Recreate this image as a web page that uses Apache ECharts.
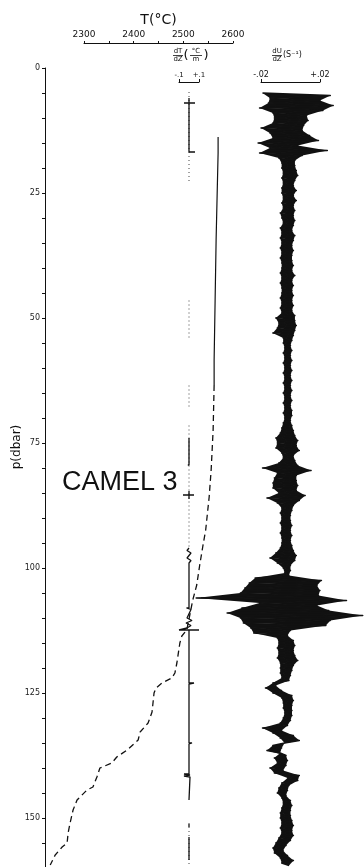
<!DOCTYPE html>
<html>
<head>
<meta charset="utf-8">
<title>CAMEL 3</title>
<script src="https://cdn.jsdelivr.net/npm/echarts@6/dist/echarts.min.js"></script>
<style>
html, body { margin: 0; padding: 0; background: #fff; }
#profile-chart-box { width: 364px; height: 867px; }
</style>
</head>
<body>
<div id="profile-chart-box"></div>
<script>
// pressure axis (dbar)
var pTickValues = [0, 5, 10, 15, 20, 25, 30, 35, 40, 45, 50, 55, 60, 65, 70, 75, 80,
    85, 90, 95, 100, 105, 110, 115, 120, 125, 130, 135, 140, 145, 150, 155, 160];
var pLabelValues = [0, 25, 50, 75, 100, 125, 150];

// temperature axis
var tTickValues = [23, 23.5, 24, 24.5, 25, 25.5, 26];
var tLabelValues = [23, 24, 25, 26];
var tTickLabels = ['2300', '2400', '2500', '2600'];

// gradient / shear axes
var dtLabelValues = [-0.1, 0.1];
var dtTickLabels = ['-.1', '+.1'];
var duLabelValues = [-0.02, 0.02];
var duTickLabels = ['-.02', '+.02'];

// temperature profile, upper solid part
var tSolidDepth = [13.8, 17, 34.4, 46.4, 58.4, 63.4];
var tSolidTemp = [25.70, 25.70, 25.66, 25.64, 25.62, 25.62];

// temperature profile, lower dashed part
var tDashDepth = [63.4, 72.4, 80.4, 85.8, 92.4, 95.8, 99.4, 103.4, 106.4, 109.4,
    112.4, 113.6, 115, 119, 121, 122, 123, 124, 125, 128.8,
    131, 132.8, 134.4, 136.4, 137.8, 139, 140, 141.8, 143.8, 144.4,
    146.4, 148.4, 151, 153, 155, 155.8, 157.4, 159.4];
var tDashTemp = [25.62, 25.60, 25.56, 25.52, 25.45, 25.39, 25.33, 25.27, 25.19, 25.13,
    25.07, 24.97, 24.93, 24.87, 24.83, 24.77, 24.57, 24.45, 24.41, 24.37,
    24.29, 24.13, 24.09, 23.87, 23.66, 23.56, 23.32, 23.26, 23.18, 23.06,
    22.86, 22.78, 22.72, 22.68, 22.66, 22.56, 22.42, 22.32];

// dT/dZ faint dotted trace (null = gap)
var dtFaintDepth = [4.8, 23, null, 46.5, 54.5, null, 63.5, 68, null, 71.5, 96, null, 151, 159.8];
var dtFaintValue = [0, 0, null, 0, 0, null, 0, 0, null, 0, 0, null, 0, 0];

// dT/dZ inked trace with its spikes (null = gap)
var dtSolidDepth = [6, 7, 7, 7, 7, 14.8, 14.8, 14.8, 14.8, 16.8, 16.8, null,
    74, 79.4, 79.4, 79.4, 79.4, null,
    85.4, 85.4, null, 84.6, 86.2, null,
    96, 96.5, 97, 98, 98.5, 99, 101, 101, 101.3, 101.6,
    104.4, 104.4, 104.7, 105, 108, 108, 108.3, 108.6,
    110, 110.5, 111, 111.5, 112, 112.4, 112.4, 112.4, 112.4, 113,
    123, 123, 123.2, 132, 132, 132.3, 132.6, 135, 135, 135.2,
    141.2, 141.2, 141.4, 141.6, 141.8, 142, 146.4, null,
    151.2, 151.8, null, 153.8, 158.4];
var dtSolidValue = [0, 0, -0.05, 0.06, 0, 0, -0.015, 0.015, 0, 0, 0.06, null,
    0, 0, -0.012, 0.012, 0, null,
    -0.06, 0.05, null, 0, 0, null,
    0, -0.02, 0.02, -0.02, 0.02, 0, 0, -0.02, 0.02, 0,
    0, -0.02, 0.02, 0, 0, -0.025, 0.02, 0,
    -0.02, 0.03, -0.03, 0.02, -0.02, 0, -0.1, 0.1, 0, 0,
    0, 0.05, 0, 0, -0.02, 0.02, 0, 0, 0.03, 0,
    0, -0.05, 0.01, -0.05, 0.01, 0, 0, null,
    0, 0, null, 0, 0];

// dU/dZ in 1e-3 s^-1, read every 0.5 dbar from 5 dbar, swinging left / right
var duStartP = 5;
var duStepP = 0.5;
var duDzMilli = [
    -19, 27, -14, 20, -15, 29, -21, 22, -12, 11,
    -11, 12, -12, 9, -20, 8, -14, 13, -12, 19,
    -22, 5, -14, 25, -21, 8, -8, 3, -6, 3,
    -6, 4, -5, 5, -6, 3, -5, 2, -6, 4,
    -6, 2, -5, 4, -6, 2, -5, 3, -7, 2,
    -6, 3, -5, 2, -7, 1, -6, 3, -7, 2,
    -6, 1, -7, 2, -6, 1, -7, 1, -6, 2,
    -6, 1, -7, 3, -6, 1, -7, 2, -6, 1,
    -6, 2, -7, 1, -6, 2, -7, 1, -6, 3,
    -10, 3, -8, 4, -9, 3, -12, 2, -5, 1,
    -5, 0, -4, 1, -5, 0, -4, 1, -5, 0,
    -4, 1, -5, 0, -4, 1, -5, 0, -4, 1,
    -5, 0, -4, 1, -5, 0, -4, 1, -5, 1,
    -4, 0, -5, 1, -6, 2, -7, 3, -10, 5,
    -9, 4, -10, 6, -6, 2, -5, 3, -8, 5,
    -19, 14, -9, 4, -11, 4, -12, 5, -12, 4,
    -8, 10, -16, 6, -9, 2, -6, 1, -7, 0,
    -6, 0, -7, 1, -6, 0, -7, 1, -6, 0,
    -6, 1, -7, 2, -10, 4, -14, 3, -9, 0,
    -5, 0, -4, -1, -24, 21, -28, 18, -31, 20,
    -34, 19, -64, 38, -21, 18, -33, 26, -43, 49,
    -34, 27, -32, 24, -27, 0, -25, -2, -9, 2,
    -8, 3, -9, 2, -8, 3, -9, 5, -7, 2,
    -7, 1, -7, 0, -6, -1, -12, -10, -17, -6,
    -12, 1, -6, 2, -5, 1, -5, 1, -4, 1,
    -5, 0, -7, -2, -19, -6, -12, 2, -7, 6,
    -4, -12, -6, -16, -7, -3, -11, -2, -9, -3,
    -14, -5, -11, 6, -2, 5, -6, -1, -8, -2,
    -9, -3, -6, 0, -5, 1, -6, 0, -7, 0,
    -7, 1, -6, 2, -7, 1, -6, 2, -8, 0,
    -10, -3, -12, -5, -11, -2, -7, 2, -6, -1
];

var ink = '#111';
var labelFont = '"DejaVu Sans", sans-serif';

// plot area that carries the traces
var plotLeft = 45;
var plotWidth = 319;
// where each scale bar sits
var tBar = { left: 84, width: 149, lo: 23, hi: 26 };
var dtBar = { left: 179, width: 20, lo: -0.1, hi: 0.1 };
var duBar = { left: 261, width: 59, lo: -0.02, hi: 0.02 };

// range of a hidden axis spanning the plot so that its scale bar lands on bar.left..bar.left+width
function stretch(bar) {
    var perPx = (bar.hi - bar.lo) / bar.width;
    return {
        min: bar.lo - (bar.left - plotLeft) * perPx,
        max: bar.lo + (plotLeft + plotWidth - bar.left) * perPx
    };
}

function pairs(values, depths) {
    var out = [];
    for (var i = 0; i < depths.length; i++) {
        if (depths[i] === null) {
            out.push(['-', '-']);
        } else {
            out.push([values[i], depths[i]]);
        }
    }
    return out;
}

var duData = [];
for (var k = 0; k < duDzMilli.length; k++) {
    duData.push([duDzMilli[k] / 1000, duStartP + k * duStepP]);
}

// fill the swing between three successive samples so the trace inks solid
function renderSwing(params, api) {
    var i = params.dataIndex;
    if (i + 2 >= duData.length) {
        return null;
    }
    return {
        type: 'polygon',
        shape: {
            points: [api.coord(duData[i]), api.coord(duData[i + 1]), api.coord(duData[i + 2])]
        },
        style: { fill: ink, stroke: null }
    };
}

function pickLabel(values, labels) {
    return function(v) {
        for (var i = 0; i < values.length; i++) {
            if (Math.abs(values[i] - v) < 1e-9) return labels[i];
        }
        return '';
    };
}

function depthAxis(idx, visible) {
    return {
        gridIndex: idx,
        type: 'value',
        inverse: true,
        min: 0,
        max: 160,
        interval: 5,
        show: visible,
        axisLine: { show: visible, onZero: false, lineStyle: { color: ink, width: 1 } },
        axisTick: {
            show: visible,
            length: 3,
            customValues: pTickValues,
            lineStyle: { color: ink, width: 1 }
        },
        axisLabel: {
            show: visible,
            customValues: pLabelValues,
            fontSize: 8,
            fontFamily: labelFont,
            color: '#222',
            margin: 5
        },
        splitLine: { show: false }
    };
}

function makeGrid(left, width) {
    return {
        left: left,
        top: 68,
        width: width,
        height: 800,
        containLabel: false,
        outerBoundsMode: 'none'
    };
}

function hiddenAxis(bar) {
    var r = stretch(bar);
    return {
        gridIndex: 0,
        type: 'value',
        show: false,
        min: r.min,
        max: r.max,
        axisLine: { onZero: false },
        splitLine: { show: false }
    };
}

function barAxis(gridIndex, bar, labelValues, labels, fontSize) {
    return {
        gridIndex: gridIndex,
        type: 'value',
        position: 'top',
        offset: -14,
        min: bar.lo,
        max: bar.hi,
        axisLine: { show: true, onZero: false, lineStyle: { color: ink, width: 1 } },
        axisTick: { show: true, length: 3, customValues: labelValues, lineStyle: { color: ink } },
        axisLabel: {
            customValues: labelValues,
            formatter: pickLabel(labelValues, labels),
            fontSize: fontSize,
            fontFamily: labelFont,
            color: ink,
            margin: 3
        },
        splitLine: { show: false }
    };
}

var option = {
    backgroundColor: '#fff',
    animation: false,
    grid: [
        makeGrid(plotLeft, plotWidth),
        makeGrid(tBar.left, tBar.width),
        makeGrid(dtBar.left, dtBar.width),
        makeGrid(duBar.left, duBar.width)
    ],
    xAxis: [
        hiddenAxis(tBar),
        {
            gridIndex: 1,
            type: 'value',
            position: 'top',
            offset: 25,
            min: tBar.lo,
            max: tBar.hi,
            interval: 0.5,
            name: 'T(°C)',
            nameLocation: 'middle',
            nameGap: 16,
            nameMoveOverlap: false,
            nameTextStyle: { fontSize: 14, fontFamily: labelFont, color: ink },
            axisLine: { show: true, onZero: false, lineStyle: { color: ink, width: 1 } },
            axisTick: { show: true, length: 2, customValues: tTickValues, lineStyle: { color: ink } },
            axisLabel: {
                customValues: tLabelValues,
                formatter: pickLabel(tLabelValues, tTickLabels),
                fontSize: 9,
                fontFamily: labelFont,
                color: ink,
                margin: 4
            },
            splitLine: { show: false }
        },
        barAxis(2, dtBar, dtLabelValues, dtTickLabels, 7),
        barAxis(3, duBar, duLabelValues, duTickLabels, 8),
        hiddenAxis(dtBar),
        hiddenAxis(duBar)
    ],
    yAxis: [
        depthAxis(0, true),
        depthAxis(1, false),
        depthAxis(2, false),
        depthAxis(3, false)
    ],
    graphic: [
        // p(dbar) axis name
        { type: 'text', x: 17, y: 447, rotation: Math.PI / 2,
          style: { text: 'p(dbar)', font: '12px ' + labelFont, fill: ink, align: 'center', verticalAlign: 'middle' } },
        // dT/dZ (°C/m)
        { type: 'text', x: 178, y: 55, style: { text: 'dT', font: '7px ' + labelFont, fill: ink, align: 'center', verticalAlign: 'bottom' } },
        { type: 'line', shape: { x1: 173, y1: 55.5, x2: 183, y2: 55.5 }, style: { stroke: ink, lineWidth: 0.8 } },
        { type: 'text', x: 178, y: 56, style: { text: 'dZ', font: '7px ' + labelFont, fill: ink, align: 'center', verticalAlign: 'top' } },
        { type: 'text', x: 186, y: 56, style: { text: '(', font: '13px ' + labelFont, fill: ink, align: 'center', verticalAlign: 'middle' } },
        { type: 'text', x: 196, y: 55, style: { text: '°C', font: '7px ' + labelFont, fill: ink, align: 'center', verticalAlign: 'bottom' } },
        { type: 'line', shape: { x1: 190, y1: 55.5, x2: 202, y2: 55.5 }, style: { stroke: ink, lineWidth: 0.8 } },
        { type: 'text', x: 196, y: 56, style: { text: 'm', font: '7px ' + labelFont, fill: ink, align: 'center', verticalAlign: 'top' } },
        { type: 'text', x: 206, y: 56, style: { text: ')', font: '13px ' + labelFont, fill: ink, align: 'center', verticalAlign: 'middle' } },
        // dU/dZ (S⁻¹)
        { type: 'text', x: 277, y: 55, style: { text: 'dU', font: '7px ' + labelFont, fill: ink, align: 'center', verticalAlign: 'bottom' } },
        { type: 'line', shape: { x1: 272, y1: 55.5, x2: 282, y2: 55.5 }, style: { stroke: ink, lineWidth: 0.8 } },
        { type: 'text', x: 277, y: 56, style: { text: 'dZ', font: '7px ' + labelFont, fill: ink, align: 'center', verticalAlign: 'top' } },
        { type: 'text', x: 283, y: 55, style: { text: '(S⁻¹)', font: '8px ' + labelFont, fill: ink, align: 'left', verticalAlign: 'middle' } },
        // station label
        { type: 'text', x: 62, y: 483,
          style: { text: 'CAMEL 3', font: '27px "Liberation Sans", Arial, sans-serif', fill: ink, align: 'left', verticalAlign: 'middle' } }
    ],
    series: [{
        name: 'T',
        type: 'line',
        xAxisIndex: 0,
        yAxisIndex: 0,
        symbol: 'none',
        data: pairs(tSolidTemp, tSolidDepth),
        lineStyle: { color: ink, width: 1.2 }
    }, {
        name: 'T lower',
        type: 'line',
        xAxisIndex: 0,
        yAxisIndex: 0,
        symbol: 'none',
        data: pairs(tDashTemp, tDashDepth),
        lineStyle: { color: ink, width: 1.3, type: [6, 4] }
    }, {
        name: 'dT/dZ faint',
        type: 'line',
        xAxisIndex: 4,
        yAxisIndex: 0,
        symbol: 'none',
        connectNulls: false,
        data: pairs(dtFaintValue, dtFaintDepth),
        lineStyle: { color: '#444', width: 1, type: [1, 3] }
    }, {
        name: 'dT/dZ',
        type: 'line',
        xAxisIndex: 4,
        yAxisIndex: 0,
        symbol: 'none',
        connectNulls: false,
        data: pairs(dtSolidValue, dtSolidDepth),
        lineStyle: { color: ink, width: 1.3 }
    }, {
        name: 'dU/dZ fill',
        type: 'custom',
        xAxisIndex: 5,
        yAxisIndex: 0,
        renderItem: renderSwing,
        data: duData,
        silent: true
    }, {
        name: 'dU/dZ',
        type: 'line',
        xAxisIndex: 5,
        yAxisIndex: 0,
        symbol: 'none',
        data: duData,
        lineStyle: { color: ink, width: 1.4, join: 'round' }
    }]
};

var myChart = echarts.init(document.getElementById('profile-chart-box'));
myChart.setOption(option);
</script>
</body>
</html>
